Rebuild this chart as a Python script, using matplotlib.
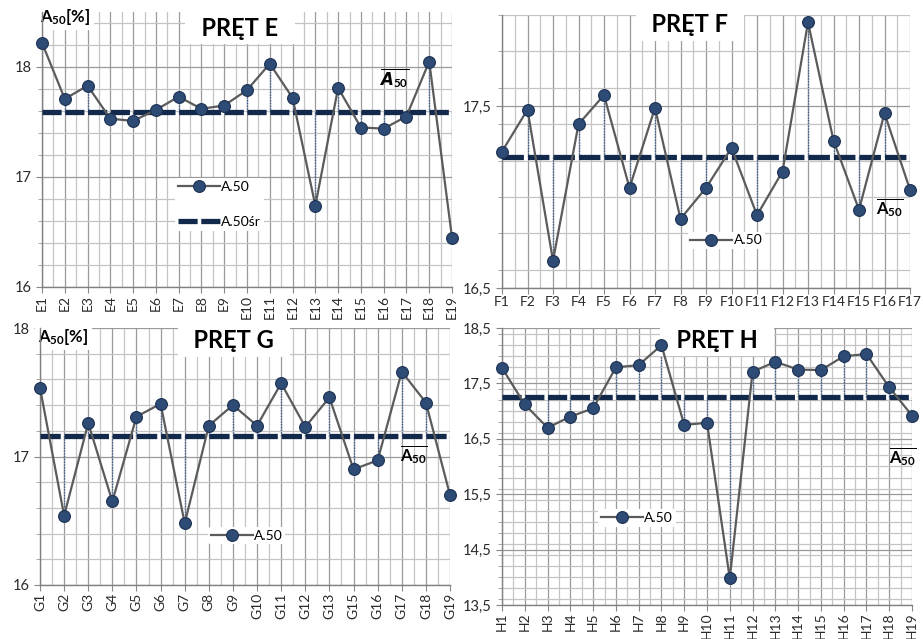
import matplotlib
matplotlib.use('Agg')
import matplotlib.pyplot as plt
from matplotlib.ticker import MultipleLocator, FuncFormatter
import numpy as np

plt.rcParams['font.family'] = ['Lato', 'DejaVu Sans']
plt.rcParams['mathtext.fontset'] = 'custom'
plt.rcParams['mathtext.rm'] = 'Lato'
plt.rcParams['mathtext.bf'] = 'Lato:bold'
plt.rcParams['mathtext.it'] = 'Lato:italic'

# Data
labels_e = ['E%d' % i for i in range(1, 20)]
values_e = [18.22, 17.71, 17.83, 17.53, 17.51, 17.61, 17.73, 17.62, 17.65, 17.79,
            18.03, 17.72, 16.74, 17.81, 17.45, 17.44, 17.55, 18.05, 16.45]
mean_e = 17.59

labels_f = ['F%d' % i for i in range(1, 18)]
values_f = [17.25, 17.48, 16.65, 17.40, 17.56, 17.05, 17.49, 16.88, 17.05, 17.27,
            16.90, 17.14, 17.96, 17.31, 16.93, 17.46, 17.04]
mean_f = 17.22

labels_g = ['G1', 'G2', 'G3', 'G4', 'G5', 'G6', 'G7', 'G8', 'G9', 'G10', 'G11',
            'G12', 'G13', 'G15', 'G16', 'G17', 'G18', 'G19']
values_g = [17.535, 16.54, 17.26, 16.65, 17.31, 17.41, 16.48, 17.24, 17.40, 17.24,
            17.57, 17.23, 17.46, 16.90, 16.97, 17.66, 17.42, 16.70]
mean_g = 17.16

labels_h = ['H%d' % i for i in range(1, 20)]
values_h = [17.78, 17.12, 16.70, 16.90, 17.05, 17.79, 17.83, 18.19, 16.75, 16.79,
            13.98, 17.71, 17.89, 17.75, 17.74, 17.99, 18.03, 17.43, 16.92]
mean_h = 17.26

W, H = 923, 639
fig = plt.figure(figsize=(W / 100, H / 100), dpi=100, facecolor='white')


def px_axes(x0, y0, x1, y1):
    return fig.add_axes([x0 / W, 1 - y1 / H, (x1 - x0) / W, (y1 - y0) / H])


def comma(v, pos):
    s = ('%.1f' % v).replace('.', ',')
    if s.endswith(',0'):
        s = s[:-2]
    return s


def panel(ax, labels, values, mean, ylim, ymajor, rot, with_mean_legend, leg_xy):
    n = len(labels)
    x = np.arange(n)
    ax.set_xlim(0, n - 1)
    ax.set_ylim(*ylim)
    ax.set_facecolor('white')

    ax.yaxis.set_minor_locator(MultipleLocator(0.2))
    ax.set_yticks(ymajor)
    ax.yaxis.set_major_formatter(FuncFormatter(comma))
    ax.set_xticks(x)
    ax.set_xticks(x[:-1] + 0.5, minor=True)
    ax.set_xticklabels(labels, rotation=rot, fontsize=10, color='#2a2a2a')
    ax.tick_params(axis='y', labelsize=10.5, colors='#2a2a2a', length=4, width=0.8,
                   color='#888888')
    ax.tick_params(axis='y', which='minor', length=3, color='#999999')
    ax.tick_params(axis='x', which='major', length=4, color='#888888', pad=1.5)
    ax.tick_params(axis='x', which='minor', length=0)

    ax.grid(True, which='major', color='#9a9a9a', lw=0.9, zorder=0)
    ax.grid(True, which='minor', color='#c4c4c4', lw=0.9, zorder=0)
    ax.set_axisbelow(True)
    for s in ['top', 'right']:
        ax.spines[s].set_visible(False)
    for s in ['left', 'bottom']:
        ax.spines[s].set_color('#808080')
        ax.spines[s].set_linewidth(1.0)

    # drop lines from points to the mean
    ax.vlines(x, mean, values, colors='#3e5f8e', linestyles=(0, (1, 1)), lw=1.0, zorder=2)

    # mean dashed line, dash period ~ category spacing
    bb = ax.get_position()
    spacing_pt = bb.width * W / (n - 1) * 0.72
    lw_mean = 3.8
    dash = (0.84 * spacing_pt / lw_mean, 0.16 * spacing_pt / lw_mean)
    mline, = ax.plot([0, n - 1], [mean, mean], color='#13294b', lw=lw_mean,
                     dashes=dash, dash_capstyle='butt', zorder=3, label='A.50śr')

    dline, = ax.plot(x, values, color='#5b5b5b', lw=1.6, marker='o', ms=8.5,
                     mfc='#2d4b75', mec='#1d3152', mew=0.8, zorder=4, label='A.50',
                     clip_on=False)

    handles = [dline, mline] if with_mean_legend else [dline]
    leg = ax.legend(handles=handles, loc='center left', bbox_to_anchor=leg_xy,
                    frameon=True, fontsize=10, handlelength=3.0, handletextpad=0.1,
                    labelspacing=1.7, borderpad=0.2, borderaxespad=0)
    leg.get_frame().set_facecolor('white')
    leg.get_frame().set_edgecolor('none')
    leg.get_frame().set_alpha(1)
    leg.set_zorder(5)


def atext(ax, x, y, s, z=2.5, **kw):
    # text placed in figure pixels but drawn inside the axes' layer order
    ax.text(x / W, 1 - y / H, s, transform=fig.transFigure, clip_on=False,
            zorder=z, **kw)


title_box = dict(boxstyle='square,pad=0.2', facecolor='white', edgecolor='none')
label_box = dict(boxstyle='square,pad=0.2', facecolor='white', edgecolor='none')

# Panel E
ax_e = px_axes(42, 12, 452, 287)
panel(ax_e, labels_e, values_e, mean_e, (16, 18.5), [16, 17, 18], 90, True, (0.325, 0.30))
atext(ax_e, 240, 28, '  PRĘT E  ', ha='center', va='center', fontsize=17,
      fontweight='bold', bbox=title_box)
atext(ax_e, 40, 17, r'$\mathbf{A_{50}}$[%]', ha='left', va='center', fontsize=12,
      fontweight='bold', bbox=label_box)
atext(ax_e, 394, 78, r'$\overline{\mathbfit{A}_{\mathbf{50}}}$', ha='center',
      va='center', fontsize=12)

# Panel F
ax_f = px_axes(502, 15, 910, 288)
panel(ax_f, labels_f, values_f, mean_f, (16.5, 18.0), [16.5, 17.5], 0, False, (0.455, 0.174))
atext(ax_f, 690, 25, '  PRĘT F  ', ha='center', va='center', fontsize=17,
      fontweight='bold', bbox=title_box)
atext(ax_f, 890, 208, r'$\overline{\mathbf{A}_{\mathbf{50}}}$', ha='center',
      va='center', fontsize=12)

# Panel G
ax_g = px_axes(40, 328, 450, 585)
panel(ax_g, labels_g, values_g, mean_g, (16, 18), [16, 17, 18], 90, False, (0.41, 0.192))
atext(ax_g, 234, 341, '  PRĘT G  ', ha='center', va='center', fontsize=17,
      fontweight='bold', bbox=title_box)
atext(ax_g, 38, 337, r'$\mathbf{A_{50}}$[%]', ha='left', va='center', fontsize=12,
      fontweight='bold', bbox=label_box)
atext(ax_g, 414, 455, r'$\overline{\mathbf{A}_{\mathbf{50}}}$', ha='center',
      va='center', fontsize=12)

# Panel H
ax_h = px_axes(502, 328, 912, 605)
panel(ax_h, labels_h, values_h, mean_h, (13.5, 18.5),
      [13.5, 14.5, 15.5, 16.5, 17.5, 18.5], 90, False, (0.235, 0.315))
atext(ax_h, 717, 340, '  PRĘT H  ', ha='center', va='center', fontsize=17,
      fontweight='bold', bbox=title_box)
atext(ax_h, 903, 457, r'$\overline{\mathbf{A}_{\mathbf{50}}}$', ha='center',
      va='center', fontsize=12)

fig.savefig('out.png', dpi=100, facecolor='white')
